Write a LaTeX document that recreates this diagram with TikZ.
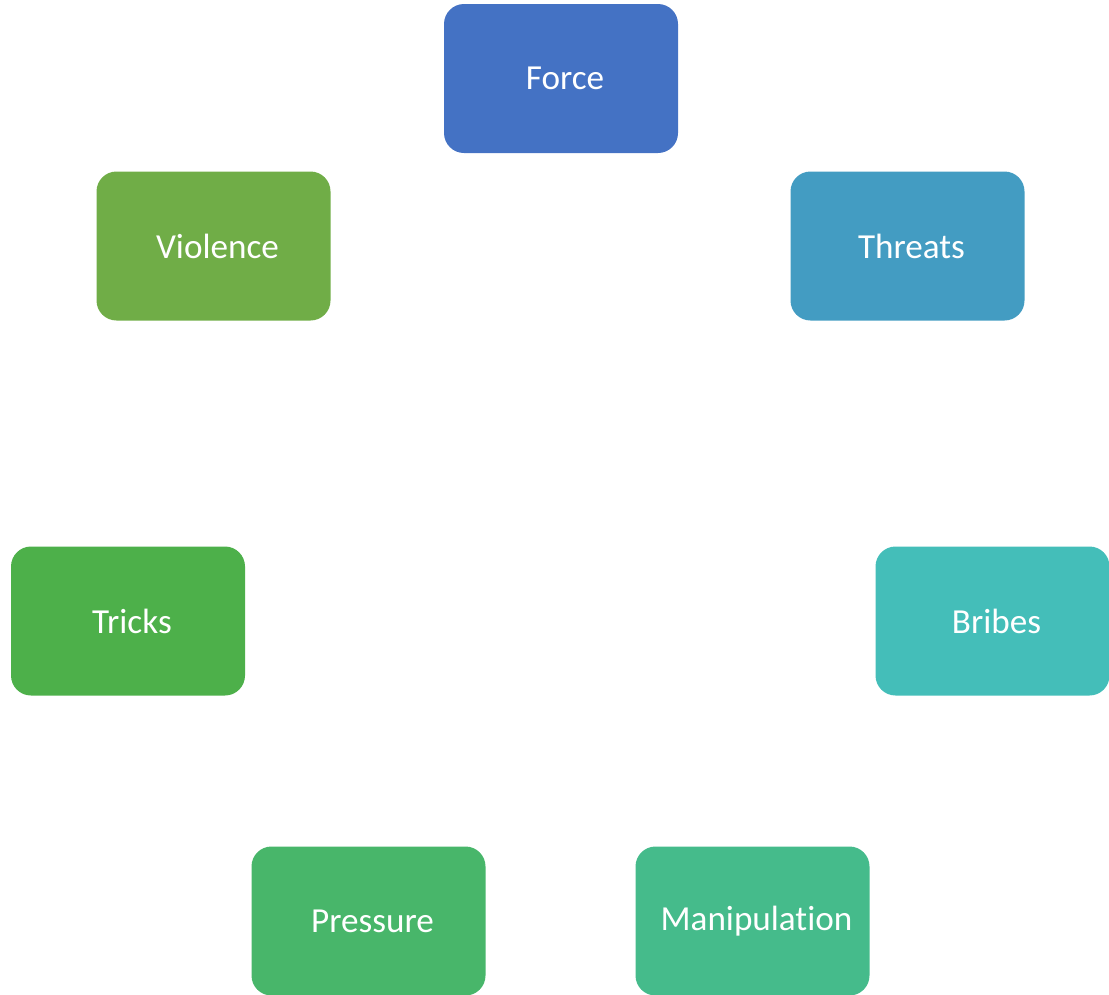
\documentclass[tikz,border=0pt]{standalone}
\usepackage{fontspec}
\setmainfont[Ligatures=NoCommon,RawFeature={-calt;-dlig}]{Carlito}
\definecolor{cForce}{HTML}{4472C4}
\definecolor{cThreats}{HTML}{439CC2}
\definecolor{cBribes}{HTML}{44BEB9}
\definecolor{cManip}{HTML}{45BB8B}
\definecolor{cPress}{HTML}{48B66A}
\definecolor{cTricks}{HTML}{4DB04A}
\definecolor{cViol}{HTML}{70AD47}
\tikzset{
    tactic/.style={rectangle, rounded corners=0.4cm, fill=#1, text=white,
      minimum width=4.68cm, minimum height=2.98cm, inner sep=0pt, outer sep=0pt,
      font=\fontsize{20}{24}\selectfont, execute at begin node=\hspace*{0.16cm}},
  }
\begin{document}
\begin{tikzpicture}
				  \useasboundingbox (0,0) rectangle (22.18,-19.88);
				  %cycle of tactics, clockwise from top
				  \node[tactic=cForce] (force) at (11.22,-1.57) {Force};
				  \node[tactic=cThreats] (threats) at (18.15,-4.92) {Threats};
				  \node[tactic=cBribes] (bribes) at (19.85,-12.42) {Bribes};
				  \node[tactic=cManip] (manip) at (15.05,-18.42) {Manipula{}tion};
				  \node[tactic=cPress] (pressure) at (7.37,-18.42) {Pressure};
				  \node[tactic=cTricks] (tricks) at (2.56,-12.42) {Tricks};
				  \node[tactic=cViol] (violence) at (4.27,-4.92) {Violence};
				  \end{tikzpicture}
\end{document}
